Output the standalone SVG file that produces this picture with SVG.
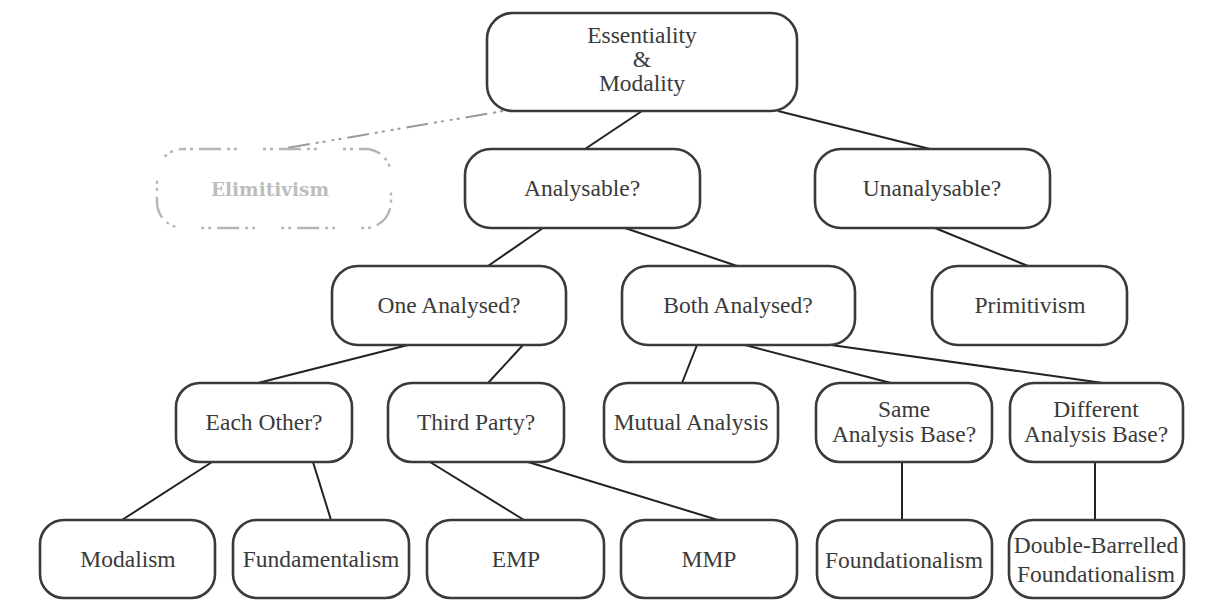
<svg xmlns="http://www.w3.org/2000/svg" width="1206" height="612" viewBox="0 0 1206 612">
<style>
.box{fill:#fff;stroke:#3a3a3a;stroke-width:2.6}
.t{font-family:"Liberation Serif","Times New Roman",serif;font-size:23.5px;fill:#3a3a3a;text-anchor:middle}
.ln{stroke:#222;stroke-width:2;fill:none}
.dash{stroke:#9a9a9a;stroke-width:2;fill:none;stroke-dasharray:3 4 3 6 22 6 3 4 3 6}
.dbox{fill:none;stroke:#b5b5b5;stroke-width:2.4;stroke-dasharray:3 4 3 6 22 6 3 4 3 26}
.dt{font-family:"DejaVu Serif",serif;font-size:18.5px;font-weight:bold;fill:#bdbdbd;text-anchor:middle}
</style>
<rect width="1206" height="612" fill="#fff"/>
<g id="connectors">
<line class="dash" x1="503" y1="111" x2="287" y2="148"/>
<line class="ln" x1="642" y1="111" x2="585" y2="149"/>
<line class="ln" x1="778" y1="111" x2="930" y2="149"/>
<line class="ln" x1="543" y1="228" x2="488" y2="266"/>
<line class="ln" x1="625" y1="228" x2="737" y2="266"/>
<line class="ln" x1="935" y1="228" x2="1028" y2="266"/>
<line class="ln" x1="408" y1="345" x2="258" y2="383"/>
<line class="ln" x1="523" y1="345" x2="488" y2="383"/>
<line class="ln" x1="697" y1="345" x2="682" y2="383"/>
<line class="ln" x1="745" y1="345" x2="891" y2="383"/>
<line class="ln" x1="831" y1="345" x2="1103" y2="383"/>
<line class="ln" x1="212" y1="462" x2="122" y2="520"/>
<line class="ln" x1="313" y1="462" x2="331" y2="520"/>
<line class="ln" x1="430" y1="462" x2="524" y2="520"/>
<line class="ln" x1="528" y1="462" x2="718" y2="520"/>
<line class="ln" x1="902" y1="462" x2="902" y2="520"/>
<line class="ln" x1="1095" y1="462" x2="1095" y2="520"/>
</g>
<g id="root"><rect class="box" x="487" y="13" width="310" height="98" rx="26"/>
<text class="t" x="642" y="43">Essentiality</text><text class="t" x="642" y="67">&amp;</text><text class="t" x="642" y="91">Modality</text></g>
<g id="elimitivism"><rect class="dbox" x="157" y="149" width="234" height="79" rx="26"/>
<text class="dt" x="270" y="196">Elimitivism</text></g>
<g id="analysable"><rect class="box" x="465" y="149" width="235" height="79" rx="26"/><text class="t" x="582" y="196">Analysable?</text></g>
<g id="unanalysable"><rect class="box" x="815" y="149" width="235" height="79" rx="26"/><text class="t" x="932" y="196">Unanalysable?</text></g>
<g id="one"><rect class="box" x="332" y="266" width="234" height="79" rx="26"/><text class="t" x="449" y="313">One Analysed?</text></g>
<g id="both"><rect class="box" x="622" y="266" width="233" height="79" rx="26"/><text class="t" x="738" y="313">Both Analysed?</text></g>
<g id="primitivism"><rect class="box" x="932" y="266" width="195" height="79" rx="26"/><text class="t" x="1030" y="313">Primitivism</text></g>
<g id="eachother"><rect class="box" x="176" y="383" width="176" height="79" rx="24"/><text class="t" x="264" y="430">Each Other?</text></g>
<g id="thirdparty"><rect class="box" x="388" y="383" width="176" height="79" rx="24"/><text class="t" x="476" y="430">Third Party?</text></g>
<g id="mutual"><rect class="box" x="604" y="383" width="174" height="79" rx="24"/><text class="t" x="691" y="430">Mutual Analysis</text></g>
<g id="same"><rect class="box" x="816" y="383" width="176" height="79" rx="24"/><text class="t" x="904" y="417">Same</text><text class="t" x="904" y="442">Analysis Base?</text></g>
<g id="different"><rect class="box" x="1010" y="383" width="173" height="79" rx="24"/><text class="t" x="1096" y="417">Different</text><text class="t" x="1096" y="442">Analysis Base?</text></g>
<g id="modalism"><rect class="box" x="40" y="520" width="175" height="78" rx="24"/><text class="t" x="128" y="567">Modalism</text></g>
<g id="fundamentalism"><rect class="box" x="233" y="520" width="176" height="78" rx="24"/><text class="t" x="321" y="567">Fundamentalism</text></g>
<g id="emp"><rect class="box" x="427" y="520" width="177" height="78" rx="24"/><text class="t" x="516" y="567">EMP</text></g>
<g id="mmp"><rect class="box" x="621" y="520" width="176" height="78" rx="24"/><text class="t" x="709" y="567">MMP</text></g>
<g id="foundationalism"><rect class="box" x="817" y="520" width="175" height="78" rx="24"/><text class="t" x="904" y="568">Foundationalism</text></g>
<g id="double"><rect class="box" x="1009" y="520" width="175" height="78" rx="24"/><text class="t" x="1096" y="553">Double-Barrelled</text><text class="t" x="1096" y="582">Foundationalism</text></g>
</svg>
